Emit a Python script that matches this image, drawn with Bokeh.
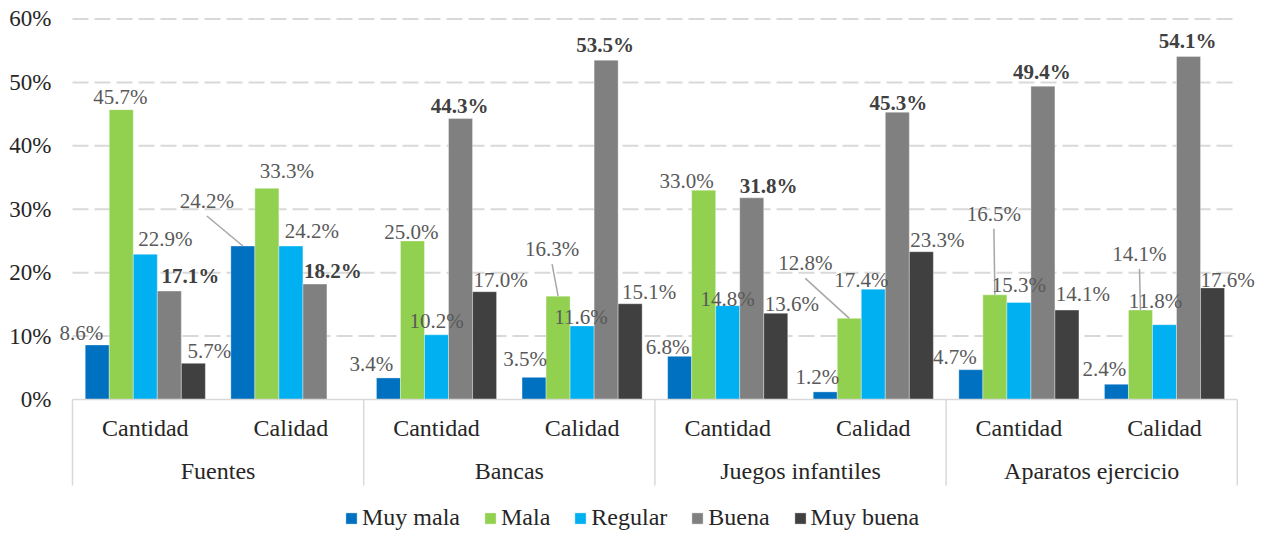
import math
from bokeh.plotting import figure
from bokeh.models import (ColumnDataSource, Range1d, FixedTicker, PrintfTickFormatter,
                          LabelSet, Legend, LegendItem, LinearAxis)
from bokeh.core.properties import value
from bokeh.embed import file_html
from bokeh.resources import INLINE

# ---------------- data ----------------
categories = ["Fuentes", "Bancas", "Juegos infantiles", "Aparatos ejercicio"]
subcategories = ["Cantidad", "Calidad"]
series_names = ["Muy mala", "Mala", "Regular", "Buena", "Muy buena"]

muy_mala = [8.6, 24.2, 3.4, 3.5, 6.8, 1.2, 4.7, 2.4]
mala = [45.7, 33.3, 25.0, 16.3, 33.0, 12.8, 16.5, 14.1]
regular = [22.9, 24.2, 10.2, 11.6, 14.8, 17.4, 15.3, 11.8]
buena = [17.1, 18.2, 44.3, 53.5, 31.8, 45.3, 49.4, 54.1]
muy_buena = [5.7, None, 17.0, 15.1, 13.6, 23.3, 14.1, 17.6]

y_ticks = [0, 10, 20, 30, 40, 50, 60]

# ---------------- style / layout ----------------
colors = ["#0070C0", "#92D050", "#00B0F0", "#808080", "#404040"]
FONT = "'Liberation Serif', 'Times New Roman', Times, serif"
PX_X = 145.6     # pixels per sub-group unit
PX_Y = 6.342     # pixels per percent
BAR_W = 0.165

# label offsets in pixels: (dx from bar centre, height of label centre above bar top)
off_muy_mala = [(-16, 12), (-36, 45), (-17, 14), (-9, 18), (-12, 9), (-8, 15), (-16, 13), (-12, 15)]
off_mala = [(-1, 13), (20, 17), (-1, 9), (-6, 47), (-17, 9), (-44, 55), (-1, 81), (-1, 56)]
off_regular = [(20, 15), (21, 15), (0, 14), (-1, 9), (0, 7), (-12, 9), (0, 17), (-9, 24)]
off_buena = [(21, 15), (18, 13), (-1, 13), (-1, 15), (17, 12), (1, 9), (-1, 14), (-1, 15)]
off_muy_buena = [(16, 12), (0, 0), (16, 12), (19, 12), (16, 9), (16, 12), (16, 16), (15, 8)]
leader = [[False, True, False, False, False, False, False, False],
          [False, False, False, True, False, True, True, True],
          [False] * 8, [False] * 8, [False] * 8]

all_series = [muy_mala, mala, regular, buena, muy_buena]
all_offsets = [off_muy_mala, off_mala, off_regular, off_buena, off_muy_buena]

W, H = 1266, 530
ML, MR = 56, 5
frame_w = W - ML - MR
x0 = -16 / PX_X
x1 = x0 + frame_w / PX_X
y_top = 399 / PX_Y
y_bot = -131 / PX_Y

p = figure(width=W, height=H, x_range=Range1d(x0, x1), y_range=Range1d(y_bot, y_top),
           output_backend="svg", toolbar_location=None, x_axis_type=None, y_axis_type=None,
           min_border_left=ML, min_border_right=MR, min_border_top=0, min_border_bottom=0)
p.outline_line_color = None
p.background_fill_color = "white"
p.xgrid.visible = False
p.ygrid.visible = False

# y axis
yaxis = LinearAxis(ticker=FixedTicker(ticks=y_ticks), formatter=PrintfTickFormatter(format="%d%%"),
                   bounds=(0, 60))
yaxis.axis_line_color = None
yaxis.major_tick_line_color = None
yaxis.minor_tick_line_color = None
yaxis.major_tick_out = 0
yaxis.major_tick_in = 0
yaxis.major_label_standoff = 5
yaxis.major_label_text_font = FONT
yaxis.major_label_text_font_size = "23px"
yaxis.major_label_text_color = "#262626"
p.add_layout(yaxis, "left")

n_groups = len(categories) * len(subcategories)

# dashed gridlines across the category span
gy = y_ticks[1:]
p.segment(x0=[0] * len(gy), y0=gy, x1=[n_groups] * len(gy), y1=gy,
          line_color="#d9d9d9", line_width=2, line_dash="16 6")

items = []
lab_norm = dict(x=[], y=[], t=[])
lab_bold = dict(x=[], y=[], t=[])
lead = dict(x0=[], y0=[], x1=[], y1=[])
for i, (name, vals, offs) in enumerate(zip(series_names, all_series, all_offsets)):
    xs = [g + 0.5 + (i - 2) * BAR_W for g in range(n_groups)]
    tops = [float("nan") if v is None else v for v in vals]
    src = ColumnDataSource(dict(x=xs, top=tops))
    r = p.vbar(x="x", top="top", bottom=0, width=BAR_W, source=src,
               fill_color=colors[i], line_color="white", line_alpha=0.35, line_width=1)
    items.append(LegendItem(label=name, renderers=[r]))
    for g, v in enumerate(vals):
        if v is None:
            continue
        dx, up = offs[g]
        lx = xs[g] + dx / PX_X
        ly = v + up / PX_Y
        d = lab_bold if i == 3 else lab_norm
        d["x"].append(lx)
        d["y"].append(ly)
        d["t"].append(f"{v:.1f}%")
        if leader[i][g]:
            lead["x0"].append(lx)
            lead["y0"].append(ly - 15 / PX_Y)
            lead["x1"].append(xs[g])
            lead["y1"].append(v)

p.segment(x0="x0", y0="y0", x1="x1", y1="y1", source=ColumnDataSource(lead),
          line_color="#a6a6a6", line_width=1.5)

p.add_layout(LabelSet(x="x", y="y", text="t", source=ColumnDataSource(lab_norm),
                      text_align="center", text_baseline="middle", text_font=value(FONT),
                      text_font_size="21px", text_color="#595959"))
p.add_layout(LabelSet(x="x", y="y", text="t", source=ColumnDataSource(lab_bold),
                      text_align="center", text_baseline="middle", text_font=value(FONT),
                      text_font_size="21px", text_font_style="bold", text_color="#404040"))

# category axis (two levels)
p.segment(x0=[0], y0=[0], x1=[n_groups], y1=[0], line_color="#d9d9d9", line_width=1.5)
sep_x = list(range(0, n_groups + 1, 2))
p.segment(x0=sep_x, y0=[0] * len(sep_x), x1=sep_x, y1=[-86 / PX_Y] * len(sep_x),
          line_color="#d9d9d9", line_width=1.5)
sub_x = [g + 0.5 for g in range(n_groups)]
sub_t = [subcategories[g % 2] for g in range(n_groups)]
p.text(x=sub_x, y=[-28.4 / PX_Y] * n_groups, text=sub_t, text_align="center",
       text_baseline="middle", text_font=value(FONT), text_font_size="24px", text_color="#262626")
grp_x = [2 * k + 1 for k in range(len(categories))]
p.text(x=grp_x, y=[-71 / PX_Y] * len(categories), text=categories, text_align="center",
       text_baseline="middle", text_font=value(FONT), text_font_size="24px", text_color="#262626")

legend = Legend(items=items, location=(288, -1), orientation="horizontal",
                glyph_width=14, glyph_height=14, label_standoff=4, spacing=23, padding=0,
                margin=0, border_line_color=None, background_fill_alpha=0,
                label_text_font=FONT, label_text_font_size="24px", label_text_color="#262626")
p.add_layout(legend)

open("out.html", "w").write(file_html(p, INLINE))
